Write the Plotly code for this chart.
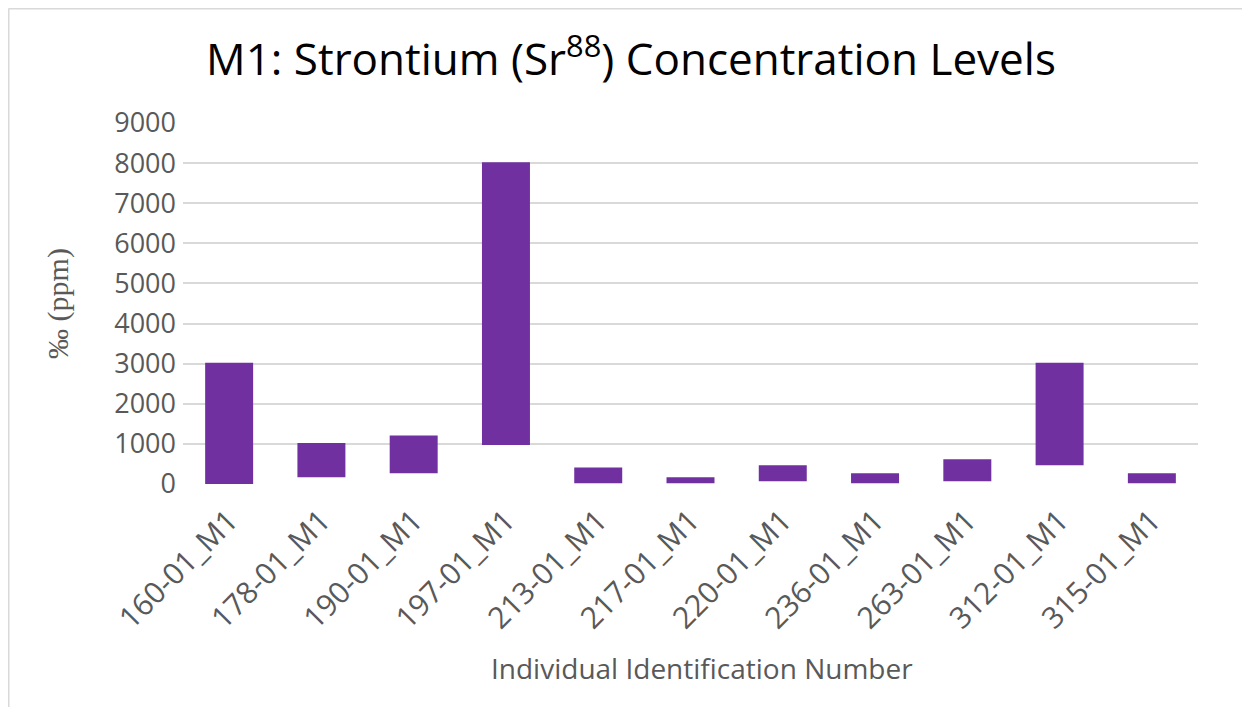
import plotly.graph_objects as go

categories = ["160-01_M1", "178-01_M1", "190-01_M1", "197-01_M1", "213-01_M1",
              "217-01_M1", "220-01_M1", "236-01_M1", "263-01_M1", "312-01_M1", "315-01_M1"]
low_values = [0, 170, 270, 970, 20, 20, 70, 20, 70, 470, 20]
high_values = [3020, 1020, 1210, 8020, 410, 170, 470, 270, 620, 3020, 270]
y_ticks = [0, 1000, 2000, 3000, 4000, 5000, 6000, 7000, 8000, 9000]

spans = [h - l for h, l in zip(high_values, low_values)]

# page has an 8px body margin; figure sized to fit the window
OFF = 8
W, H = 1250 - 2 * OFF, 715 - 2 * OFF
L = 183 - OFF
T = 123 - OFF
R = W - (1198 - OFF)
B = H - (484 - OFF)
pw, ph = W - L - R, H - T - B

fig = go.Figure()
fig.add_trace(go.Bar(
    x=categories, y=spans, base=low_values,
    marker=dict(color="#7030a0", line=dict(width=0)),
    hoverinfo="x+y",
))

def px_x(v):
    return (v - L) / pw

def px_y(v):
    return (H - B - v) / ph

fig.update_layout(
    width=W, height=H,
    margin=dict(l=L, r=R, t=T, b=B),
    paper_bgcolor="white", plot_bgcolor="white",
    bargap=0.48,
    showlegend=False,
    title=dict(
        text="M1: Strontium (Sr<sup>88</sup>) Concentration Levels",
        x=(631 - OFF) / W, xanchor="center",
        y=1 - (60 - OFF) / H, yanchor="middle",
        font=dict(family="Open Sans, Lato, sans-serif", size=44, color="#000000"),
    ),
    font=dict(family="Open Sans, sans-serif", color="#595959"),
    xaxis=dict(
        tickangle=-45,
        tickfont=dict(size=30, color="#595959"),
        showgrid=False, zeroline=False, showline=False,
        ticks="",
        ticklabelstandoff=12,
    ),
    yaxis=dict(
        range=[0, 9000],
        tickvals=y_ticks,
        tickfont=dict(size=27, color="#595959"),
        showgrid=True, gridcolor="#d9d9d9", gridwidth=1.5,
        zeroline=False, showline=False, ticks="",
        ticklabelstandoff=6,
        title=dict(text="‰ (ppm)",
                   font=dict(family="Liberation Serif, DejaVu Serif, serif", size=30, color="#595959"),
                   standoff=36),
    ),
    annotations=[
        dict(text="Individual Identification Number",
             xref="paper", yref="paper",
             x=px_x(702 - OFF), y=px_y(668 - OFF),
             xanchor="center", yanchor="middle", showarrow=False,
             font=dict(size=28, color="#595959")),
    ],
    shapes=[
        dict(type="line", xref="paper", yref="paper",
             x0=px_x(0.5), x1=px_x(W), y0=px_y(0.5), y1=px_y(0.5),
             line=dict(color="#d9d9d9", width=2)),
        dict(type="line", xref="paper", yref="paper",
             x0=px_x(0.5), x1=px_x(0.5), y0=px_y(0.5), y1=px_y(H),
             line=dict(color="#d9d9d9", width=2)),
    ],
)

fig.write_html("out.html")
